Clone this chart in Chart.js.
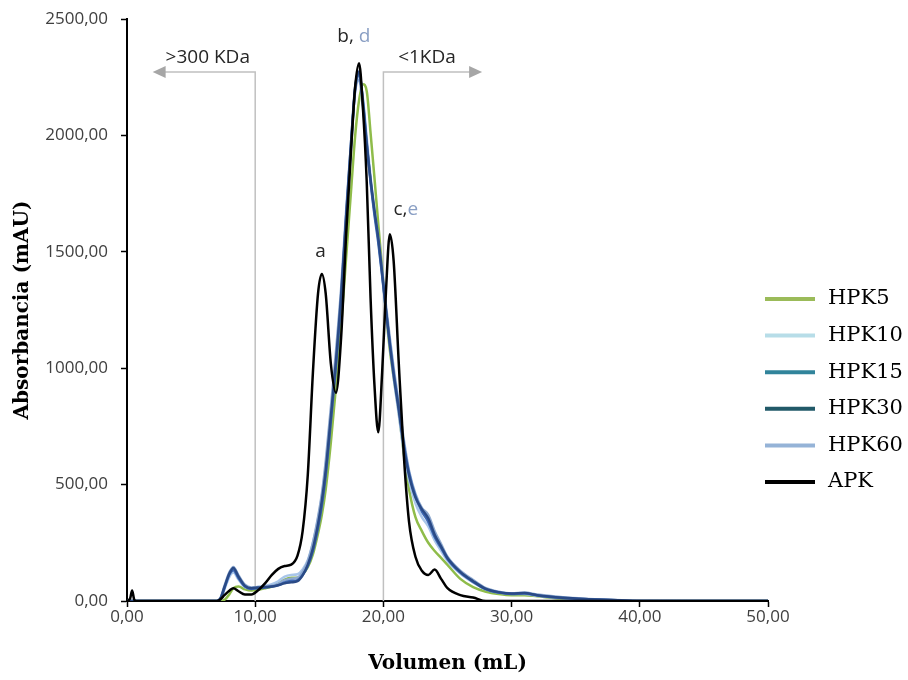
<!DOCTYPE html>
<html>
<head>
<meta charset="utf-8">
<script src="https://cdn.jsdelivr.net/npm/chart.js@4.4.1/dist/chart.umd.min.js"></script>
<style>
  body { margin: 0; background: #fff; }
  #wrap { width: 908px; height: 680px; }
</style>
</head>
<body>
<div id="wrap"><canvas id="myChart" width="908" height="680"></canvas></div>
<script>
// volumen de elución (mL)
const volume = [
  0, 0.25, 0.4, 0.55, 0.7,
  7.0, 7.3, 7.6, 8.0, 8.3,
  8.7, 9.2, 9.7, 10.2, 10.8,
  11.3, 11.8, 12.3, 12.8, 13.3,
  13.7, 14.1, 14.5, 14.9, 15.2,
  15.5, 15.9, 16.3, 16.7, 17.1,
  17.5, 17.8, 18.1, 18.4, 18.7,
  19.0, 19.3, 19.6, 19.9, 20.2,
  20.5, 20.8, 21.2, 21.6, 22.0,
  22.5, 23.0, 23.5, 24.0, 24.5,
  25, 26, 27, 28, 29,
  30, 31, 32, 34, 36,
  38, 40, 45, 50
];

const hpk5 = [
  0, 0, 0, 0, 0,
  0, 0, 5, 30, 55,
  62, 50, 45, 48, 55,
  62, 75, 92, 100, 100,
  115, 145, 200, 290, 370,
  480, 680, 920, 1180, 1480,
  1780, 2000, 2150, 2220, 2190,
  2010, 1820, 1620, 1430, 1240,
  1080, 960, 810, 630, 480,
  360, 300, 250, 215, 185,
  155, 95, 60, 40, 30,
  25, 25, 20, 10, 5,
  2, 0, 0, 0
];
const hpk10 = [
  0, 0, 0, 0, 0,
  0, 8, 50, 105, 122,
  92, 60, 55, 60, 65,
  72, 85, 105, 112, 115,
  135, 175, 250, 350, 450,
  580, 800, 1040, 1320, 1660,
  1980, 2200, 2260, 2160, 1990,
  1820, 1680, 1550, 1400, 1240,
  1100, 960, 800, 640, 520,
  420, 360, 320, 260, 215,
  172, 118, 80, 50, 36,
  30, 30, 22, 12, 6,
  3, 0, 0, 0
];
const hpk15 = [
  0, 0, 0, 0, 0,
  0, 10, 55, 115, 132,
  98, 62, 52, 55, 58,
  62, 68, 80, 86, 90,
  112, 150, 215, 315, 410,
  540, 770, 1010, 1290, 1640,
  1970, 2200, 2260, 2150, 1970,
  1800, 1660, 1540, 1400, 1250,
  1110, 980, 830, 670, 550,
  450, 385, 340, 275, 228,
  180, 122, 82, 50, 36,
  30, 32, 24, 13, 7,
  3, 0, 0, 0
];
const hpk30 = [
  0, 0, 0, 0, 0,
  0, 12, 60, 120, 142,
  105, 65, 55, 58, 60,
  62, 68, 76, 80, 85,
  110, 155, 225, 330, 430,
  560, 790, 1030, 1310, 1660,
  1990, 2210, 2275, 2140, 1960,
  1810, 1680, 1560, 1410, 1250,
  1100, 970, 820, 660, 540,
  445, 395, 355, 285, 235,
  185, 125, 85, 52, 38,
  32, 34, 25, 14, 8,
  4, 0, 0, 0
];
const hpk60 = [
  0, 0, 0, 0, 0,
  0, 15, 65, 125, 146,
  110, 70, 58, 60, 62,
  66, 74, 90, 96, 100,
  125, 170, 250, 360, 460,
  600, 830, 1070, 1340, 1680,
  1990, 2190, 2240, 2120, 1950,
  1800, 1670, 1560, 1420, 1270,
  1130, 1000, 850, 690, 560,
  460, 400, 370, 300, 245,
  190, 130, 90, 55, 40,
  33, 36, 28, 16, 9,
  4, 1, 0, 0
];
const apk = [
  0, 12, 45, 8, 0,
  0, 8, 25, 45, 55,
  42, 28, 28, 45, 78,
  112, 138, 150, 156, 195,
  300, 540, 980, 1320, 1405,
  1320, 1020, 895, 1130, 1580,
  1960, 2210, 2310, 2120, 1800,
  1300, 930, 725, 980, 1330,
  1575, 1460, 1020, 620, 340,
  190, 130, 112, 135, 95,
  55, 25, 15, 0, 0,
  0, 0, 0, 0, 0,
  0, 0, 0, 0
];

const seriesNames = ['HPK5', 'HPK10', 'HPK15', 'HPK30', 'HPK60', 'APK'];
const seriesValues = [hpk5, hpk10, hpk15, hpk30, hpk60, apk];
const lineColors = ['#8fbc4a', '#a9c6ea', '#3d68b3', '#2a4a86', '#8ea9cf', '#000000'];
const legendColors = ['#9bbb59', '#b7dde8', '#31849b', '#215968', '#95b3d7', '#000000'];
const drawOrder = [5, 4, 2, 1, 3, 0];

// zonas de corte (mL) y flechas
const cutoffs = [10, 20];
const arrowLevel = 2272;
const arrowTips = [2.0, 27.7];
const zoneLabels = ['>300 KDa', '<1KDa'];
const zoneLabelX = [6.3, 23.4];
const zoneLabelY = 2335;

// etiquetas de picos
const peakTexts = [[['a', '#262626']], [['b, ', '#262626'], ['d', '#8a9fc4']], [['c,', '#262626'], ['e', '#8a9fc4']]];
const peakX = [15.1, 17.7, 21.75];
const peakY = [1500, 2425, 1680];

const fmt = v => v.toFixed(2).replace('.', ',');

const annotations = {
    id: 'annotations',
    beforeDatasetsDraw(chart) {
        const {ctx, scales: {x, y}} = chart;
        ctx.save();
        ctx.strokeStyle = '#c0c0c0';
        ctx.fillStyle = '#a6a6a6';
        ctx.lineWidth = 1.5;
        cutoffs.forEach((c, i) => {
            const cx = x.getPixelForValue(c);
            const ay = y.getPixelForValue(arrowLevel);
            const tx = x.getPixelForValue(arrowTips[i]);
            const dir = tx < cx ? -1 : 1;
            ctx.beginPath();
            ctx.moveTo(cx, y.getPixelForValue(0));
            ctx.lineTo(cx, ay);
            ctx.lineTo(tx - dir * 12, ay);
            ctx.stroke();
            ctx.beginPath();
            ctx.moveTo(tx, ay);
            ctx.lineTo(tx - dir * 13, ay - 6);
            ctx.lineTo(tx - dir * 13, ay + 6);
            ctx.closePath();
            ctx.fill();
        });
        ctx.restore();
    },
    afterDatasetsDraw(chart) {
        const {ctx, scales: {x, y}} = chart;
        ctx.save();
        ctx.font = '19px "Open Sans"';
        ctx.textBaseline = 'middle';
        ctx.textAlign = 'center';
        ctx.fillStyle = '#262626';
        zoneLabels.forEach((t, i) => {
            ctx.fillText(t, x.getPixelForValue(zoneLabelX[i]), y.getPixelForValue(zoneLabelY));
        });
        ctx.textAlign = 'left';
        peakTexts.forEach((parts, i) => {
            const total = parts.reduce((s, p) => s + ctx.measureText(p[0]).width, 0);
            let px = x.getPixelForValue(peakX[i]) - total / 2;
            const py = y.getPixelForValue(peakY[i]);
            parts.forEach(p => {
                ctx.fillStyle = p[1];
                ctx.fillText(p[0], px, py);
                px += ctx.measureText(p[0]).width;
            });
        });
        ctx.restore();
    },
    afterDraw(chart) {
        const ctx = chart.ctx;
        ctx.save();
        ctx.font = '21px "DejaVu Serif"';
        ctx.textBaseline = 'middle';
        ctx.fillStyle = '#000';
        seriesNames.forEach((name, i) => {
            const ly = 299 + i * 36.6;
            ctx.strokeStyle = legendColors[i];
            ctx.lineWidth = 4;
            ctx.beginPath();
            ctx.moveTo(765, ly);
            ctx.lineTo(815, ly);
            ctx.stroke();
            ctx.fillText(name, 828, ly);
        });
        ctx.restore();
    }
};

const ctx = document.getElementById('myChart');
const myChart = new Chart(ctx, {
    type: 'line',
    data: {
        datasets: seriesNames.map((name, i) => ({
            label: name,
            data: volume.map((v, k) => ({x: v, y: seriesValues[i][k]})),
            borderColor: lineColors[i],
            borderWidth: 2.5,
            pointRadius: 0,
            cubicInterpolationMode: 'monotone',
            fill: false,
            order: drawOrder[i]
        }))
    },
    options: {
        responsive: false,
        animation: false,
        layout: { padding: { left: 0, right: 140, top: 19, bottom: 0 } },
        plugins: { legend: { display: false }, tooltip: { enabled: false } },
        scales: {
            x: {
                type: 'linear', min: 0, max: 50,
                ticks: { stepSize: 10, callback: fmt, color: '#404040', font: { family: 'Open Sans', size: 17 }, padding: 0, maxRotation: 0 },
                grid: { drawOnChartArea: false, tickLength: 6, tickColor: '#000', tickWidth: 1.5 },
                border: { color: '#000', width: 2 },
                title: { display: true, text: 'Volumen (mL)', color: '#000', font: { family: 'DejaVu Serif', weight: 'bold', size: 20 }, padding: { top: 0, bottom: 4 } },
                afterFit: s => { s.height = 79; }
            },
            y: {
                min: 0, max: 2500,
                ticks: { stepSize: 500, callback: fmt, color: '#404040', font: { family: 'Open Sans', size: 17, lineHeight: 0.6 }, padding: 13 },
                grid: { drawOnChartArea: false, tickLength: 6, tickColor: '#000', tickWidth: 1.5 },
                border: { color: '#000', width: 2 },
                title: { display: true, text: 'Absorbancia (mAU)', color: '#000', font: { family: 'DejaVu Serif', weight: 'bold', size: 20 }, padding: { top: 11, bottom: 0 } },
                afterFit: s => { s.width = 127; }
            }
        }
    },
    plugins: [annotations]
});
</script>
</body>
</html>
